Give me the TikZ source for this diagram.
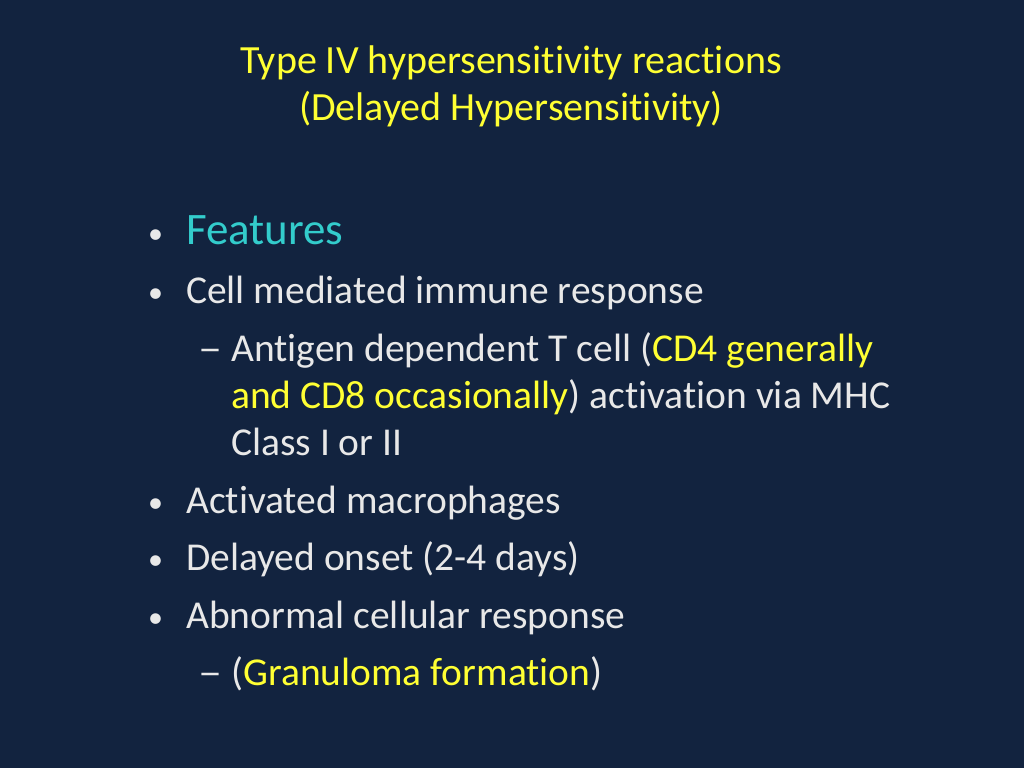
\documentclass[tikz,border=0pt]{standalone}
\usepackage{fontspec}
\setmainfont{Carlito}[Ligatures={NoCommon}]
\definecolor{bg}{HTML}{12233F}
\definecolor{ttl}{HTML}{FFFF33}
\definecolor{cy}{HTML}{33CCCC}
\definecolor{txt}{HTML}{E8E8E8}
\newcommand{\bul}{\makebox[38pt][l]{\fontsize{30}{30}\selectfont\raisebox{1pt}{•}}}
\newcommand{\dsh}{\makebox[33pt][l]{\resizebox{24pt}{\height}{–}}}
\begin{document}
\begin{tikzpicture}[x=1pt,y=-1pt,
  ttlstyle/.style={text=ttl,font=\fontsize{40}{44}\selectfont,anchor=base},
  line/.style={text=txt,font=\fontsize{39.5}{44}\selectfont,anchor=base west,inner sep=0},
  hl/.style={text=ttl}]
\fill[bg] (0,0) rectangle (1024,768);
\useasboundingbox (0,0) rectangle (1024,768);
\node[ttlstyle] (t1) at (511,74) {Type IV hypersensitivity reactions};
\node[ttlstyle] (t2) at (511,120) {(Delayed Hypersensitivity)};
\node[line,text=cy,font=\fontsize{45}{48}\selectfont] (f) at (148,244) {\textcolor{txt}{\bul}Features};
\node[line] (l1) at (148,303) {\bul Cell mediated immune response};
\node[line] (l2) at (198,361) {\dsh Antigen dependent T cell (\textcolor{ttl}{CD4 generally}};
\node[line] (l3) at (231,408) {\textcolor{ttl}{and CD8 occasionally}) activation via MHC};
\node[line] (l4) at (231,455) {Class I or II};
\node[line] (l5) at (148,513) {\bul Activated macrophages};
\node[line] (l6) at (148,570) {\bul Delayed onset (2-4 days)};
\node[line] (l7) at (148,628) {\bul Abnormal cellular response};
\node[line] (l8) at (198,685) {\dsh(\textcolor{ttl}{Granuloma formation})};
\end{tikzpicture}
\end{document}
